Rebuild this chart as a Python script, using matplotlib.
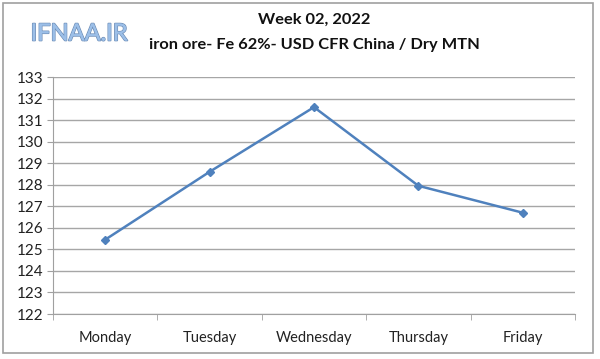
import matplotlib
matplotlib.use("Agg")
import matplotlib.pyplot as plt
from matplotlib.patches import Rectangle
import matplotlib.patheffects as pe

days = ["Monday", "Tuesday", "Wednesday", "Thursday", "Friday"]
prices = [125.45, 128.6, 131.6, 127.95, 126.7]
y_ticks = list(range(122, 134))

plt.rcParams['font.family'] = ['Lato', 'DejaVu Sans']

fig = plt.figure(figsize=(6.0, 3.59), dpi=100)
ax = fig.add_axes([53 / 600, 1 - 314 / 359, 522 / 600, 237 / 359])

x = list(range(len(days)))
ax.plot(x, prices, color='#4f81bd', lw=1.8, marker='D', ms=4,
        markerfacecolor='#4f81bd', markeredgecolor='#4f81bd')

ax.set_xlim(-0.5, len(days) - 0.5)
ax.set_ylim(122, 133)
ax.set_yticks(y_ticks)
ax.set_yticklabels([str(v) for v in y_ticks], fontsize=11, color='#222222')
ax.set_xticks(x)
ax.set_xticklabels(days, fontsize=10.5, color='#222222')
ax.set_xticks([i - 0.5 for i in range(len(days) + 1)], minor=True)
ax.tick_params(axis='x', which='major', length=0, pad=12)
ax.tick_params(axis='x', which='minor', length=4, color='#a0a0a0', direction='out')
ax.tick_params(axis='y', length=4, color='#a0a0a0', direction='out', pad=3)
ax.grid(axis='y', color='#a6a6a6', lw=1)
ax.set_axisbelow(True)
for side in ['top', 'right']:
    ax.spines[side].set_visible(False)
ax.spines['left'].set_color('#a0a0a0')
ax.spines['bottom'].set_color('#a0a0a0')

fig.text(314 / 600, 1 - 20 / 359, "Week 02, 2022", ha='center', va='center',
         fontsize=11.8, fontweight='bold', color='#111111')
fig.text(314 / 600, 1 - 45 / 359, "iron ore- Fe 62%- USD CFR China / Dry MTN",
         ha='center', va='center', fontsize=11.8, fontweight='bold', color='#111111')

fig.text(79 / 600, 1 - 34 / 359, "IFNAA.IR", ha='center', va='center',
         fontsize=17, color='#9cbfe8',
         path_effects=[pe.withStroke(linewidth=1.2, foreground='#6f8fb8'),
                       pe.Normal()])

fig.patches.append(Rectangle((3 / 600, 1 - 353 / 359), 590 / 600, 350 / 359,
                             transform=fig.transFigure, fill=False,
                             edgecolor='#a0a0a0', lw=1.2))

fig.savefig("out.png", dpi=100)
